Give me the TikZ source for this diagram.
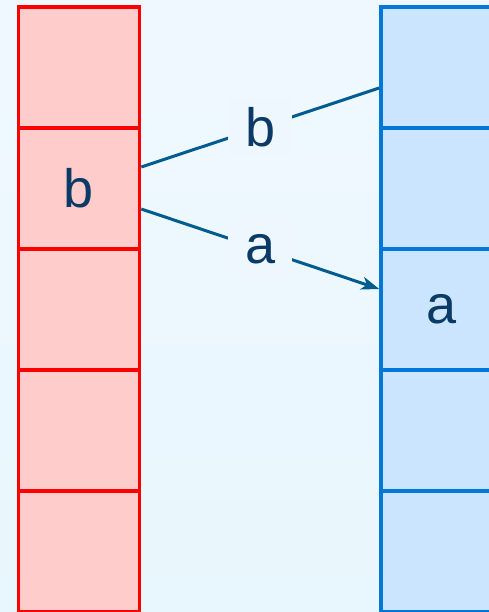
\documentclass[tikz,border=0pt]{standalone}
\usepackage{fontspec}
\setmainfont{Liberation Sans}
\usetikzlibrary{arrows.meta}
\definecolor{bgtop}{HTML}{F0F8FF}
\definecolor{bgbot}{HTML}{E8F7FD}
\definecolor{lblfill}{HTML}{EEF7FE}
\definecolor{redline}{HTML}{FF0000}
\definecolor{redfill}{HTML}{FFCCCC}
\definecolor{blueline}{HTML}{0077D9}
\definecolor{bluefill}{HTML}{CCE5FF}
\definecolor{linkcol}{HTML}{005B8F}
\definecolor{txtcol}{HTML}{0B3A66}
\tikzset{
  cellL/.style={draw=redline, fill=redfill, line width=3.5pt, minimum width=121pt, minimum height=121pt, inner sep=0pt, text=txtcol, font=\fontsize{54}{60}\selectfont},
  cellR/.style={draw=blueline, fill=bluefill, line width=3.5pt, minimum width=121pt, minimum height=121pt, inner sep=0pt, text=txtcol, font=\fontsize{54}{60}\selectfont},
  link/.style={draw=linkcol, line width=3pt},
  lbl/.style={fill=lblfill, inner sep=0pt, minimum width=64pt, minimum height=58pt, text=txtcol, font=\fontsize{54}{60}\selectfont}
}
\begin{document}
\begin{tikzpicture}[x=1pt,y=-1pt]
\useasboundingbox (0,0) rectangle (489,612);
\shade[top color=bgtop, bottom color=bgbot] (0,0) rectangle (489,612);
% left column
\node[cellL] (L0) at (79,67.5) {};
\node[cellL] (L1) at (79,188.5) {b};
\node[cellL] (L2) at (79,309.5) {};
\node[cellL] (L3) at (79,430.5) {};
\node[cellL] (L4) at (79,551.5) {};
% right column
\node[cellR] (R0) at (441.5,67.5) {};
\node[cellR] (R1) at (441.5,188.5) {};
\node[cellR] (R2) at (441.5,309.5) {a};
\node[cellR] (R3) at (441.5,430.5) {};
\node[cellR] (R4) at (441.5,551.5) {};
% links
\draw[link] ([yshift=21.5pt]L1.east) -- node[lbl] {b} ([yshift=-20.5pt]R0.west);
\draw[link, -{Stealth[length=18pt,width=13pt,inset=5pt]}] ([yshift=-20.5pt]L1.east) -- node[lbl] {a} ([yshift=20.5pt]R2.west);
\end{tikzpicture}
\end{document}
